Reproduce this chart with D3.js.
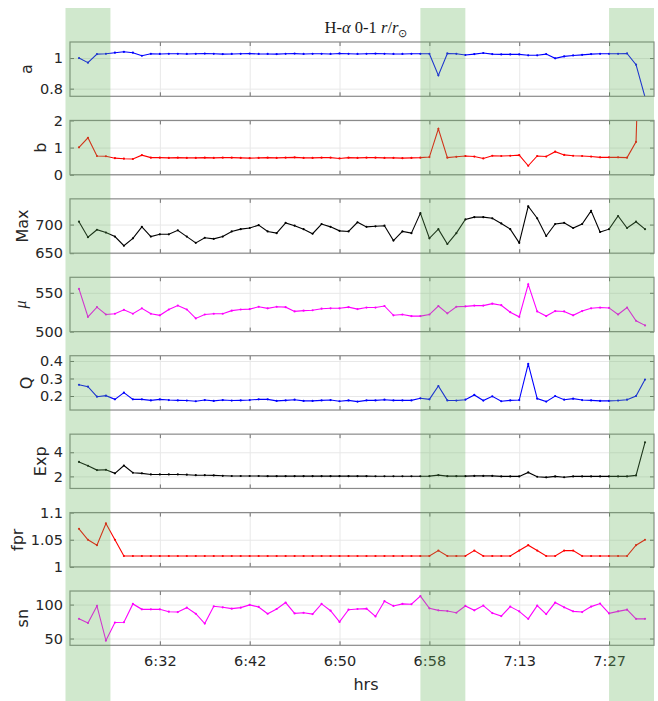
<!DOCTYPE html>
<html>
<head>
<meta charset="utf-8">
<script src="https://cdn.jsdelivr.net/npm/d3@7"></script>
<style>
  body { margin: 0; background: #fff; }
  svg { display: block; }
  .tick text { font-family: "DejaVu Sans", sans-serif; font-size: 14.5px; fill: #262626; }
  .grid line { stroke: #e8e8e8; stroke-width: 1; }
  .grid .domain { display: none; }
</style>
</head>
<body>
<svg id="chart"></svg>
<script>
// Sample index 1..64, x tick positions and their time labels.
const samples = d3.range(1, 65);
const xTickIdx = [10, 20, 30, 40, 50, 60];
const xTickLabels = ['6:32', '6:42', '6:50', '6:58', '7:13', '7:27'];

// Shaded intervals (in sample index units).
const bandStarts = [-0.5, 39, 60];
const bandEnds = [4.5, 44, 65];

const aVals = [1.0, 0.97, 1.026, 1.028, 1.035, 1.041, 1.035, 1.015, 1.028, 1.027,
  1.028, 1.028, 1.027, 1.028, 1.029, 1.028, 1.026, 1.027, 1.028, 1.029,
  1.027, 1.027, 1.026, 1.028, 1.029, 1.027, 1.028, 1.028, 1.027, 1.030,
  1.028, 1.027, 1.028, 1.029, 1.028, 1.027, 1.027, 1.028, 1.028, 1.028,
  0.887, 1.030, 1.028, 1.020, 1.026, 1.033, 1.026, 1.024, 1.024, 1.024,
  1.018, 1.018, 1.026, 0.998, 1.011, 1.017, 1.021, 1.026, 1.028, 1.028,
  1.028, 1.030, 0.957, 0.745];

const bVals = [1.01, 1.36, 0.69, 0.68, 0.61, 0.59, 0.58, 0.72, 0.63, 0.63,
  0.62, 0.63, 0.62, 0.62, 0.63, 0.62, 0.63, 0.63, 0.62, 0.61,
  0.62, 0.63, 0.62, 0.63, 0.64, 0.62, 0.62, 0.63, 0.63, 0.60,
  0.63, 0.62, 0.63, 0.63, 0.62, 0.62, 0.61, 0.62, 0.63, 0.65,
  1.69, 0.63, 0.66, 0.69, 0.67, 0.60, 0.70, 0.69, 0.70, 0.72,
  0.33, 0.69, 0.67, 0.85, 0.73, 0.70, 0.69, 0.67, 0.64, 0.64,
  0.64, 0.63, 1.21, 11.9];

const maxVals = [705, 678, 691, 686, 679, 663, 676, 696, 679, 683,
  683, 690, 679, 668, 677, 675, 679, 688, 692, 694,
  699, 688, 685, 703, 698, 692, 684, 701, 696, 689,
  688, 704, 696, 697, 698, 672, 688, 685, 720, 676,
  692, 666, 685, 709, 713, 713, 711, 702, 692, 668,
  732, 711, 680, 701, 703, 694, 701, 724, 687, 692,
  715, 694, 705, 692];

const muVals = [555, 519, 531.5, 522, 523, 528, 523, 530, 523, 521,
  528.5, 533.5, 528.5, 517, 522, 523, 523, 527, 528.5, 529,
  532, 530, 532, 531.5, 526, 527, 527.5, 529.5, 530, 530,
  531.5, 529, 531, 531, 533, 521, 522, 520, 520, 522,
  533, 523.5, 532, 532.5, 533.5, 533.5, 536, 534, 525, 519,
  561, 526, 520, 526.5, 526, 521, 526.5, 530, 531, 530.5,
  522, 531, 514, 508];

const qVals = [0.264, 0.253, 0.196, 0.202, 0.181, 0.219, 0.181, 0.181, 0.175, 0.181,
  0.177, 0.175, 0.174, 0.170, 0.177, 0.172, 0.177, 0.174, 0.175, 0.177,
  0.181, 0.181, 0.172, 0.175, 0.179, 0.172, 0.172, 0.175, 0.177, 0.170,
  0.175, 0.168, 0.175, 0.175, 0.179, 0.175, 0.175, 0.175, 0.187, 0.181,
  0.257, 0.175, 0.174, 0.179, 0.206, 0.174, 0.198, 0.170, 0.175, 0.177,
  0.383, 0.185, 0.168, 0.200, 0.179, 0.185, 0.177, 0.175, 0.172, 0.172,
  0.174, 0.179, 0.200, 0.294];

const expVals = [3.2, 2.88, 2.52, 2.55, 2.25, 2.9, 2.3, 2.25, 2.16, 2.16,
  2.16, 2.16, 2.14, 2.1, 2.1, 2.08, 2.05, 2.03, 2.03, 2.03,
  2.03, 2.02, 2.02, 2.02, 2.02, 2.02, 2.02, 2.02, 2.02, 2.02,
  2.02, 2.02, 2.02, 2.01, 2.01, 2.01, 2.01, 2.01, 2.01, 2.02,
  2.1, 2.02, 2.02, 2.02, 2.04, 2.04, 2.04, 2.0, 2.0, 2.0,
  2.33, 1.97, 1.92, 2.0, 1.93, 2.0, 2.0, 2.0, 2.0, 2.0,
  2.0, 2.0, 2.08, 4.82];

const fprVals = [1.07, 1.05, 1.04, 1.08, 1.05, 1.02, 1.02, 1.02, 1.02, 1.02,
  1.02, 1.02, 1.02, 1.02, 1.02, 1.02, 1.02, 1.02, 1.02, 1.02,
  1.02, 1.02, 1.02, 1.02, 1.02, 1.02, 1.02, 1.02, 1.02, 1.02,
  1.02, 1.02, 1.02, 1.02, 1.02, 1.02, 1.02, 1.02, 1.02, 1.02,
  1.03, 1.02, 1.02, 1.02, 1.03, 1.02, 1.02, 1.02, 1.02, 1.03,
  1.04, 1.03, 1.02, 1.02, 1.03, 1.03, 1.02, 1.02, 1.02, 1.02,
  1.02, 1.02, 1.04, 1.05];

const snVals = [79, 73, 98, 47, 73.5, 74, 101, 93, 93, 93,
  89.5, 89, 95.5, 86.5, 72, 97.5, 96, 94, 95.5, 99.5,
  96.5, 86.5, 93.5, 103, 87, 88, 86, 101, 91, 74.5,
  92.5, 93.5, 94, 82.5, 105, 98, 101, 100.5, 112.5, 94.5,
  91.5, 90.5, 88, 98, 91.5, 98.5, 87.5, 83, 97, 90,
  79, 98.5, 86, 103, 96, 90, 89, 97, 101.5, 87,
  90, 92.5, 79, 79];

const panelNames = ['a', 'b', 'Max', '\u03bc', 'Q', 'Exp', 'fpr', 'sn'];
const panelSeries = [aVals, bVals, maxVals, muVals, qVals, expVals, fprVals, snVals];
const panelColors = ['#0000ff', '#ff0000', '#000000', '#ff00ff', '#0000ff', '#000000', '#ff0000', '#ff00ff'];
const panelDomains = [[0.75, 1.105], [0, 2], [650, 745], [500, 570], [0.12, 0.43], [1, 5.5], [1, 1.1], [40, 120]];
const panelTicks = [[0.8, 1], [0, 1, 2], [650, 700], [500, 550], [0.2, 0.3, 0.4], [2, 4], [1, 1.05, 1.1], [50, 100]];

const W = 658, H = 701;
const left = 70, right = 654;
const top0 = 42, pitch = 78.43, ph = 54.3;

const svg = d3.select('#chart').attr('width', W).attr('height', H);

const x = d3.scaleLinear().domain([0, 65]).range([left, right]);
const fmt = d3.format('~g');

panelSeries.forEach((vals, p) => {
  const y0 = top0 + p * pitch;
  const y = d3.scaleLinear().domain(panelDomains[p]).range([y0 + ph, y0]);
  const g = svg.append('g');

  // Grid.
  g.append('g').attr('class', 'grid')
      .attr('transform', `translate(0, ${y0 + ph})`)
      .call(d3.axisBottom(x).tickValues(xTickIdx).tickSize(-ph).tickFormat(''));
  g.append('g').attr('class', 'grid')
      .attr('transform', `translate(${left}, 0)`)
      .call(d3.axisLeft(y).tickValues(panelTicks[p]).tickSize(-(right - left)).tickFormat(''));

  // Line with dot markers, clipped to the axes box.
  const clipId = 'clip' + p;
  svg.append('clipPath').attr('id', clipId)
      .append('rect').attr('x', left).attr('y', y0).attr('width', right - left).attr('height', ph);
  const data = samples.map((s, i) => [s, vals[i]]);
  const plot = g.append('g').attr('clip-path', `url(#${clipId})`);
  plot.append('path').datum(data)
      .attr('fill', 'none').attr('stroke', panelColors[p]).attr('stroke-width', 1.1)
      .attr('d', d3.line().x(d => x(d[0])).y(d => y(d[1])));
  plot.selectAll('circle').data(data).join('circle')
      .attr('cx', d => x(d[0])).attr('cy', d => y(d[1])).attr('r', 1.1)
      .attr('fill', panelColors[p]);

  // Axes: inward ticks on all four sides.
  const yl = g.append('g').attr('transform', `translate(${left}, 0)`)
      .call(d3.axisLeft(y).tickValues(panelTicks[p]).tickSize(-4).tickPadding(7).tickFormat(fmt));
  g.append('g').attr('transform', `translate(${right}, 0)`)
      .call(d3.axisRight(y).tickValues(panelTicks[p]).tickSize(-4).tickFormat(''));
  const xb = g.append('g').attr('transform', `translate(0, ${y0 + ph})`)
      .call(d3.axisBottom(x).tickValues(xTickIdx).tickSize(-4).tickPadding(10)
          .tickFormat((d, i) => p === panelSeries.length - 1 ? xTickLabels[i] : ''));
  g.append('g').attr('transform', `translate(0, ${y0})`)
      .call(d3.axisTop(x).tickValues(xTickIdx).tickSize(-4).tickFormat(''));
  g.selectAll('.domain').filter(function() {
    return !this.parentNode.classList.contains('grid');
  }).remove();
  g.selectAll('g:not(.grid) > .tick line').attr('stroke', '#6e6e6e');
  g.append('rect').attr('x', left).attr('y', y0).attr('width', right - left).attr('height', ph)
      .attr('fill', 'none').attr('stroke', '#8a8a8a').attr('stroke-width', 1.2);

  // Y label, placed left of the widest tick label.
  let tickLeft = left;
  yl.selectAll('.tick text').each(function() {
    tickLeft = Math.min(tickLeft, left - 7 - this.getComputedTextLength());
  });
  const isMu = p === 3;
  g.append('text')
      .attr('transform', `translate(${tickLeft - (isMu ? 9 : 7.5)}, ${y0 + ph / 2}) rotate(-90)`)
      .attr('text-anchor', 'middle')
      .style('font-family', isMu ? '"Liberation Serif", serif' : '"DejaVu Sans", sans-serif')
      .style('font-style', isMu ? 'italic' : 'normal')
      .style('font-size', isMu ? '16px' : '16px')
      .attr('fill', '#262626')
      .text(panelNames[p]);
});

// x label
svg.append('text').attr('x', 366).attr('y', 690).attr('text-anchor', 'middle')
    .style('font-family', '"DejaVu Sans", sans-serif').style('font-size', '16px')
    .attr('fill', '#262626').text('hrs');

// Title
const title = svg.append('text').attr('x', 366).attr('y', 33).attr('text-anchor', 'middle')
    .style('font-family', '"Liberation Serif", serif').style('font-size', '16.5px')
    .attr('fill', '#1a1a1a');
title.append('tspan').text('H-');
title.append('tspan').style('font-style', 'italic').text('\u03b1');
title.append('tspan').text(' 0-1 ');
title.append('tspan').style('font-style', 'italic').text('r');
title.append('tspan').text('/');
title.append('tspan').style('font-style', 'italic').text('r');
title.append('tspan').attr('dy', 4).style('font-size', '11px').text('\u2299');

// Shaded intervals drawn on top, semi-transparent.
svg.append('g').selectAll('rect').data(bandStarts).join('rect')
    .attr('x', (d) => x(d))
    .attr('width', (d, i) => x(bandEnds[i]) - x(d))
    .attr('y', 8).attr('height', H - 8)
    .attr('fill', 'rgb(100,180,90)').attr('fill-opacity', 0.3);
</script>
</body>
</html>
